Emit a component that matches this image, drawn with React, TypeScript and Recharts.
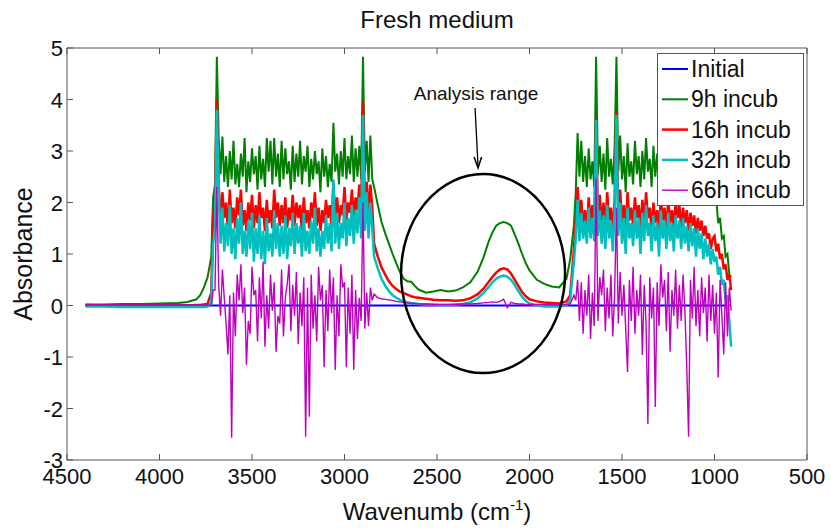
import React from "react";
import {
  LineChart,
  Line,
  XAxis,
  YAxis,
  Legend,
  ReferenceDot,
} from "recharts";

// --- Configuration & Constants ---
const FONT = "'Liberation Sans', Arial, Helvetica, sans-serif";
const AXIS = "#555";
const TEXT = "#111";

const SERIES = [
  { key: "a", name: "Initial", color: "#0000ff", width: 2 },
  { key: "g", name: "9h incub", color: "#007f00", width: 2 },
  { key: "r", name: "16h incub", color: "#ff0000", width: 2.5 },
  { key: "c", name: "32h incub", color: "#00bfbf", width: 2.5 },
  { key: "m", name: "66h incub", color: "#bf00bf", width: 1.4 },
];

const xTicks = [4500, 4000, 3500, 3000, 2500, 2000, 1500, 1000, 500];
const yTicks = [-3, -2, -1, 0, 1, 2, 3, 4, 5];

// --- Data ---
const initialWave = [4400, 3700, 2850, 1750, 910];
const initialAbs = [0, 0, 0, 0, 0];

const wavenumber = [
  // flat start
  4400, 4300, 4200, 4100, 4000, 3900, 3850, 3800, 3780, 3760, 3740, 3720, 3710,
  // first noisy plateau
  3700, 3690, 3680, 3670, 3660, 3650, 3640, 3630, 3620, 3610,
  3600, 3590, 3580, 3570, 3560, 3550, 3540, 3530, 3520, 3510,
  3500, 3490, 3480, 3470, 3460, 3450, 3440, 3430, 3420, 3410,
  3400, 3390, 3380, 3370, 3360, 3350, 3340, 3330, 3320, 3310,
  3300, 3290, 3280, 3270, 3260, 3250, 3240, 3230, 3220, 3210,
  3200, 3190, 3180, 3170, 3160, 3150, 3140, 3130, 3120, 3110,
  3100, 3090, 3080, 3070, 3060, 3050, 3040, 3030, 3020, 3010,
  3000, 2990, 2980, 2970, 2960, 2950, 2940, 2930, 2920, 2910,
  2900, 2890, 2880, 2870, 2860, 2850,
  // analysis range
  2840, 2820, 2800, 2780, 2760, 2740, 2720, 2700, 2680, 2660,
  2640, 2620, 2600, 2560, 2520, 2480, 2440, 2400, 2360, 2320,
  2280, 2250, 2220, 2200, 2180, 2160, 2140, 2120, 2100, 2080,
  2060, 2040, 2020, 2000, 1960, 1920, 1880, 1840, 1800, 1780, 1760,
  // second noisy plateau
  1750, 1740, 1730, 1720, 1710, 1700, 1690, 1680, 1670, 1660,
  1650, 1640, 1630, 1620, 1610, 1600, 1590, 1580, 1570, 1560,
  1550, 1540, 1530, 1520, 1510, 1500, 1490, 1480, 1470, 1460,
  1450, 1440, 1430, 1420, 1410, 1400, 1390, 1380, 1370, 1360,
  1350, 1340, 1330, 1320, 1310, 1300, 1290, 1280, 1270, 1260,
  1250, 1240, 1230, 1220, 1210, 1200, 1190, 1180, 1170, 1160,
  1150, 1140, 1130, 1120, 1110, 1100, 1090, 1080, 1070, 1060,
  1050, 1040, 1030, 1020, 1010, 1000, 990, 980, 970, 960,
  950, 940, 930, 920, 910,
];

const incub9h = [
  0.02, 0.02, 0.03, 0.03, 0.04, 0.05, 0.07, 0.12, 0.2, 0.35, 0.55, 0.95, 2.1,
  2.35, 4.83, 3.25, 2.55, 3.28, 2.4, 2.9, 2.3, 3.0, 2.45,
  3.2, 2.35, 2.75, 2.3, 2.95, 2.5, 3.25, 2.2, 2.8, 2.4,
  3.05, 2.55, 2.9, 2.25, 3.1, 2.45, 2.85, 2.3, 3.25, 2.6,
  3.2, 2.35, 3.25, 2.5, 2.95, 2.3, 3.2, 2.45, 3.05, 2.55,
  2.8, 2.25, 3.1, 2.4, 2.95, 2.5, 3.2, 2.35, 2.9, 2.6,
  3.1, 2.3, 2.85, 2.45, 3.0, 2.55, 2.8, 2.2, 3.05, 2.5,
  2.9, 2.3, 2.75, 2.4, 3.55, 2.6, 2.95, 2.35, 3.0, 2.5,
  3.25, 2.45, 2.9, 2.55, 3.3, 2.4, 3.05, 2.5, 3.1, 2.45,
  4.83, 2.6, 3.2, 2.4, 3.3, 2.45,
  2.3, 1.95, 1.62, 1.4, 1.2, 1.0, 0.82, 0.65, 0.52, 0.47,
  0.46, 0.38, 0.31, 0.25, 0.27, 0.3, 0.27, 0.29, 0.35, 0.45,
  0.66, 0.92, 1.25, 1.42, 1.55, 1.6, 1.62, 1.6, 1.55, 1.38,
  1.2, 1.0, 0.82, 0.68, 0.5, 0.42, 0.37, 0.35, 0.52, 0.9, 1.55,
  2.2, 3.35, 2.5, 3.2, 2.4, 2.9, 2.3, 3.05, 2.45, 2.8,
  2.3, 4.83, 2.55, 3.1, 2.4, 2.95, 2.25, 3.25, 2.5, 2.85,
  2.35, 3.05, 4.83, 2.6, 3.3, 2.45, 2.9, 2.2, 3.15, 2.5,
  2.8, 2.35, 3.2, 2.55, 2.9, 2.3, 3.0, 2.45, 3.25, 2.6,
  2.85, 2.3, 3.1, 2.5, 2.95, 2.35, 3.05, 2.55, 2.8, 2.25,
  3.2, 2.5, 2.9, 2.4, 3.1, 2.6, 2.85, 2.3, 3.0, 2.45,
  2.75, 2.3, 2.95, 2.5, 2.8, 2.35, 2.9, 2.45, 2.7, 2.3,
  2.65, 2.25, 2.5, 2.15, 2.35, 1.95, 2.05, 1.6, 1.7, 1.3,
  1.35, 0.95, 1.0, 0.6, 0.55,
];

const incub16h = [
  0.01, 0.0, 0.0, 0.0, 0.0, 0.0, 0.0, 0.01, 0.01, 0.02, 0.03, 0.25, 1.8,
  1.95, 4.0, 2.35, 1.6, 2.2, 1.7, 2.0, 1.45, 2.25, 1.6,
  1.9, 1.5, 2.1, 1.75, 2.25, 1.55, 1.85, 1.45, 2.0, 1.65,
  2.15, 1.5, 1.95, 1.6, 2.2, 1.7, 1.9, 1.45, 2.05, 1.6,
  1.85, 1.5, 2.25, 1.7, 2.0, 1.55, 1.95, 1.6, 2.1, 1.5,
  1.9, 1.65, 2.15, 1.55, 2.0, 1.7, 1.95, 1.45, 2.1, 1.6,
  1.85, 1.5, 2.0, 1.7, 2.2, 1.55, 1.9, 1.45, 1.85, 1.6,
  2.05, 1.7, 1.95, 1.55, 2.4, 1.7, 2.1, 1.6, 1.95, 1.75,
  2.3, 1.65, 2.0, 1.8, 2.25, 1.7, 2.1, 1.85, 2.35, 1.75,
  3.95, 1.9, 2.4, 1.8, 2.35, 1.9,
  1.2, 0.95, 0.74, 0.6, 0.47, 0.38, 0.32, 0.27, 0.24, 0.21,
  0.18, 0.16, 0.15, 0.13, 0.11, 0.1, 0.1, 0.09, 0.1, 0.14,
  0.22, 0.32, 0.46, 0.56, 0.64, 0.7, 0.72, 0.7, 0.62, 0.5,
  0.38, 0.26, 0.18, 0.12, 0.08, 0.06, 0.05, 0.04, 0.08, 0.2, 1.1,
  1.6, 2.3, 1.7, 2.05, 1.5, 1.85, 1.45, 2.1, 1.6, 1.95,
  1.5, 3.64, 1.7, 2.15, 1.55, 2.0, 1.5, 2.2, 1.65, 1.9,
  1.45, 2.05, 3.76, 1.7, 2.25, 1.6, 1.95, 1.5, 2.2, 1.65,
  1.9, 1.55, 2.1, 1.7, 1.95, 1.5, 2.05, 1.6, 2.2, 1.7,
  1.9, 1.45, 2.0, 1.6, 1.85, 1.5, 2.1, 1.65, 1.9, 1.45,
  2.05, 1.6, 1.85, 1.5, 2.0, 1.7, 1.95, 1.5, 1.9, 1.6,
  1.85, 1.45, 1.8, 1.55, 1.75, 1.4, 1.7, 1.45, 1.65, 1.35,
  1.55, 1.3, 1.4, 1.1, 1.3, 1.35, 1.05, 1.2, 0.9, 1.0,
  0.7, 0.8, 0.5, 0.6, 0.3,
];

const incub32h = [
  -0.02, -0.02, -0.03, -0.03, -0.03, -0.03, -0.03, -0.03, -0.03, -0.03, -0.02, 0.05, 1.2,
  1.5, 3.8, 2.25, 1.2, 1.9, 1.05, 1.6, 1.15, 1.95, 1.0,
  1.5, 0.9, 1.7, 1.2, 2.0, 1.0, 1.45, 0.95, 1.65, 1.1,
  1.8, 0.85, 1.5, 1.0, 1.75, 0.9, 1.45, 0.8, 1.7, 1.05,
  1.4, 0.95, 1.85, 1.1, 1.6, 0.95, 1.55, 1.0, 1.75, 0.9,
  1.5, 1.15, 1.8, 1.0, 1.6, 1.2, 1.55, 0.95, 1.8, 1.05,
  1.45, 1.0, 1.65, 1.2, 1.9, 1.05, 1.5, 0.95, 1.45, 1.1,
  1.75, 1.2, 1.6, 1.05, 2.45, 1.2, 1.8, 1.1, 1.6, 1.3,
  2.0, 1.15, 1.7, 1.35, 1.95, 1.2, 1.85, 1.4, 2.1, 1.3,
  3.7, 1.45, 2.2, 1.3, 2.0, 1.5,
  0.95, 0.72, 0.52, 0.38, 0.28, 0.2, 0.15, 0.11, 0.08, 0.06,
  0.05, 0.04, 0.03, 0.02, 0.02, 0.01, 0.01, 0.02, 0.03, 0.06,
  0.14, 0.24, 0.36, 0.45, 0.52, 0.56, 0.58, 0.56, 0.5, 0.4,
  0.28, 0.17, 0.09, 0.04, 0.0, -0.02, -0.02, -0.02, 0.0, 0.1, 0.85,
  1.3, 2.05, 1.25, 1.8, 1.3, 1.65, 1.2, 1.9, 1.3, 1.7,
  1.25, 3.6, 1.35, 1.85, 1.2, 1.75, 1.1, 1.95, 1.3, 1.65,
  1.05, 1.8, 3.7, 1.35, 2.0, 1.2, 1.7, 1.0, 1.9, 1.3,
  1.6, 1.15, 1.85, 1.3, 1.7, 1.0, 1.8, 1.25, 1.95, 1.35,
  1.6, 1.05, 1.75, 1.25, 1.6, 0.95, 1.85, 1.3, 1.65, 1.1,
  1.8, 1.25, 1.6, 1.05, 1.75, 1.3, 1.65, 1.1, 1.7, 1.2,
  1.55, 1.05, 1.6, 1.15, 1.5, 0.95, 1.5, 1.1, 1.4, 0.9,
  1.3, 0.95, 1.2, 0.8, 1.1, 0.85, 0.95, 0.6, 0.75, 0.4,
  0.5, 0.1, 0.2, -0.3, -0.8,
];

const incub66h = [
  0.01, 0.01, 0.01, 0.01, 0.01, 0.01, 0.01, 0.01, 0.01, 0.01, 0.01, 0.0, 0.3,
  0.3, 2.3, 0.4, -0.2, 0.7, 0.15, -0.35, -0.95, 0.2, -2.57,
  0.25, -0.6, 0.6, 0.1, 0.8, -0.15, 0.35, -1.15, -0.3, -0.55,
  0.75, 0.2, 0.3, -0.7, 0.55, -0.25, 0.85, -0.8, 0.2, -0.45,
  0.6, -0.1, 0.45, -0.9, -0.2, -0.35, 0.7, -0.6, 0.15, 0.4,
  0.8, -0.5, 0.4, -0.2, 0.65, -0.75, 0.25, -0.4, 0.55, -2.55,
  0.35, -2.16, 0.6, -0.45, 0.2, -0.7, 0.75, 0.1, 0.4, -1.2,
  0.3, -0.5, 0.7, -0.15, 0.55, -1.25, 0.2, -0.6, 0.8, 0.35,
  0.45, -1.2, 0.35, -0.55, 0.6, -1.25, 0.3, -0.65, 0.15, -0.3,
  2.0, -0.45, 0.25, -0.4, 0.35, 0.1,
  0.22, 0.15, 0.13, 0.12, 0.11, 0.1, 0.08, 0.07, 0.06, 0.05,
  0.04, 0.04, 0.03, 0.03, 0.02, 0.02, 0.02, 0.02, 0.03, 0.03,
  0.04, 0.05, 0.06, 0.07, 0.06, 0.08, 0.12, -0.04, 0.06, 0.04,
  0.03, 0.03, 0.02, 0.02, 0.02, 0.02, 0.02, 0.02, 0.02, 0.03, 0.2,
  0.1, 0.5, -0.3, 0.45, -0.55, 0.3, -0.2, 0.6, -0.65, 0.25,
  -0.4, 2.47, -0.3, 0.55, 0.2, 0.7, -0.5, 0.35, -0.25, 0.6,
  -0.6, 0.2, 1.9, -0.35, 0.65, -0.2, 0.4, -0.45, -1.29, 0.5,
  -0.3, 0.75, -0.55, 0.3, -0.2, 0.6, -0.96, 0.4, -0.35, -2.3,
  0.55, -0.25, 0.35, -1.97, 0.45, -0.4, 0.8, 0.15, 0.5, -0.5,
  0.65, -0.9, 0.3, -0.2, 0.7, -0.45, 0.4, -0.3, 0.6, -0.1,
  -1.19, -2.55, 0.5, -0.25, 0.75, -0.4, 0.3, -0.6, 0.55, -0.15,
  0.35, -0.7, 0.6, -0.3, 0.4, -0.55, 0.25, -1.4, 0.5, -0.2,
  -0.95, 0.45, -0.6, 0.35, -0.1,
];

const table = wavenumber.map((w, i) => ({
  w,
  g: incub9h[i],
  r: incub16h[i],
  c: incub32h[i],
  m: incub66h[i],
}));
const initialRows = initialWave.map((w, i) => ({ w, a: initialAbs[i] }));

// --- Ticks (MATLAB style, pointing inward) ---
const BottomTick = ({ x, y, payload }: any) => (
  <g>
    <line x1={x} y1={y} x2={x} y2={y - 6} stroke={AXIS} />
    <text x={x} y={y + 24} textAnchor="middle" fontSize={22} fill={TEXT} fontFamily={FONT}>
      {payload.value}
    </text>
  </g>
);
const TopTick = ({ x, y }: any) => <line x1={x} y1={y} x2={x} y2={y + 6} stroke={AXIS} />;
const LeftTick = ({ x, y, payload }: any) => (
  <g>
    <line x1={x} y1={y} x2={x + 6} y2={y} stroke={AXIS} />
    <text x={x - 4} y={y + 8} textAnchor="end" fontSize={22} fill={TEXT} fontFamily={FONT}>
      {payload.value}
    </text>
  </g>
);
const RightTick = ({ x, y }: any) => <line x1={x} y1={y} x2={x - 6} y2={y} stroke={AXIS} />;

// --- Labels ---
const XLabel = ({ viewBox }: any) => (
  <text x={viewBox.x + viewBox.width / 2} y={viewBox.y + 60} textAnchor="middle" fontSize={24} fill={TEXT} fontFamily={FONT}>
    Wavenumb (cm
    <tspan dy={-10} fontSize={15}>-1</tspan>
    <tspan dy={10}>)</tspan>
  </text>
);
const YLabel = ({ viewBox }: any) => {
  const cx = viewBox.x - 34;
  const cy = viewBox.y + viewBox.height / 2;
  return (
    <text x={cx} y={cy} transform={`rotate(-90, ${cx}, ${cy})`} textAnchor="middle" fontSize={25} fill={TEXT} fontFamily={FONT}>
      Absorbance
    </text>
  );
};
const Title = ({ viewBox }: any) => (
  <text x={viewBox.x + viewBox.width / 2} y={viewBox.y - 19} textAnchor="middle" fontSize={24} fill={TEXT} fontFamily={FONT}>
    Fresh medium
  </text>
);

// --- Legend box ---
const renderLegend = () => (
  <svg width={147} height={153} style={{ display: "block" }}>
    <rect x={0.5} y={0.5} width={146} height={152} fill="#fff" stroke={AXIS} />
    {SERIES.map((s, i) => {
      const y = 16 + i * 30.3;
      return (
        <g key={s.key}>
          <line x1={5} x2={31} y1={y} y2={y} stroke={s.color} strokeWidth={s.width} />
          <text x={34} y={y + 8} fontSize={23} fill={TEXT} fontFamily={FONT}>
            {s.name}
          </text>
        </g>
      );
    })}
  </svg>
);

// --- Annotation shapes ---
const RangeEllipse = ({ cx, cy }: any) => (
  <ellipse cx={cx} cy={cy} rx={82} ry={99.5} fill="none" stroke="#000" strokeWidth={2.5} />
);
const RangeArrow = ({ cx, cy }: any) => (
  <g>
    <line x1={cx - 3} y1={cy - 60} x2={cx} y2={cy - 1} stroke="#000" strokeWidth={1.3} />
    <polyline points={`${cx - 4},${cy - 11} ${cx},${cy} ${cx + 3.5},${cy - 11}`} fill="none" stroke="#000" strokeWidth={1.5} />
    <text x={cx - 2} y={cy - 68} textAnchor="middle" fontSize={19} fill={TEXT} fontFamily={FONT}>
      Analysis range
    </text>
  </g>
);

export default function App() {
  return (
    <div style={{ position: "absolute", left: 0, top: 0, width: 831, height: 529, background: "#fff", fontFamily: FONT }}>
      <LineChart width={831} height={529} data={table} margin={{ top: 47, right: 23, bottom: 68, left: 66 }}>
        <XAxis
          dataKey="w"
          type="number"
          domain={[500, 4500]}
          ticks={xTicks}
          interval={0}
          reversed
          height={1}
          tickSize={0}
          tickMargin={0}
          tickLine={false}
          axisLine={{ stroke: AXIS }}
          tick={BottomTick}
          label={XLabel}
        />
        <XAxis
          xAxisId="top"
          orientation="top"
          dataKey="w"
          type="number"
          domain={[500, 4500]}
          ticks={xTicks}
          interval={0}
          reversed
          height={1}
          tickSize={0}
          tickMargin={0}
          tickLine={false}
          axisLine={{ stroke: AXIS }}
          tick={TopTick}
          label={Title}
        />
        <YAxis
          type="number"
          domain={[-3, 5]}
          ticks={yTicks}
          interval={0}
          width={1}
          tickSize={0}
          tickMargin={0}
          tickLine={false}
          axisLine={{ stroke: AXIS }}
          tick={LeftTick}
          label={YLabel}
        />
        <YAxis
          yAxisId="right"
          orientation="right"
          type="number"
          domain={[-3, 5]}
          ticks={yTicks}
          interval={0}
          width={1}
          tickSize={0}
          tickMargin={0}
          tickLine={false}
          axisLine={{ stroke: AXIS }}
          tick={RightTick}
        />
        <Line data={initialRows} dataKey="a" name="Initial" type="linear" stroke="#0000ff" strokeWidth={2} dot={false} isAnimationActive={false} />
        <Line dataKey="g" name="9h incub" type="linear" stroke="#007f00" strokeWidth={2} dot={false} isAnimationActive={false} />
        <Line dataKey="r" name="16h incub" type="linear" stroke="#ff0000" strokeWidth={2.5} dot={false} isAnimationActive={false} />
        <Line dataKey="c" name="32h incub" type="linear" stroke="#00bfbf" strokeWidth={2.5} dot={false} isAnimationActive={false} />
        <Line dataKey="m" name="66h incub" type="linear" stroke="#bf00bf" strokeWidth={1.4} dot={false} isAnimationActive={false} />
        <ReferenceDot x={2251} y={0.62} shape={RangeEllipse} />
        <ReferenceDot x={2278} y={2.67} shape={RangeArrow} />
        <Legend
          layout="vertical"
          align="center"
          verticalAlign="middle"
          content={renderLegend}
          wrapperStyle={{ left: 657, top: 53, width: 147, height: 153 }}
        />
      </LineChart>
    </div>
  );
}
